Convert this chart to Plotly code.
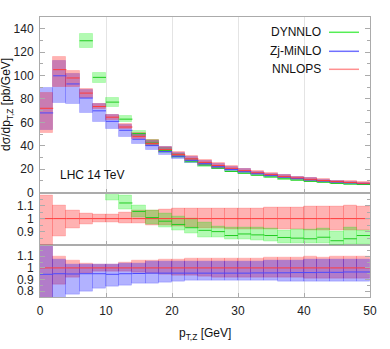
import plotly.graph_objects as go

# ---------------- data ----------------
bin_edges = list(range(0, 52, 2))  # pT,Z bins [GeV]

# NNLOPS central value [pb/GeV]
nnlops = [72.0, 105.0, 97.9, 85.0, 73.5, 64.4, 56.0, 47.8, 42.0, 36.7, 32.4, 28.8, 25.8,
          23.1, 20.7, 18.7, 16.9, 15.3, 13.8, 12.5, 11.3, 10.3, 9.4, 8.6, 7.9]
# NNLOPS band relative to its central value
nnlops_hi = [1.18, 1.10, 1.06, 1.04, 1.03, 1.03, 1.045, 1.06, 1.065, 1.07, 1.075, 1.08, 1.08,
             1.08, 1.08, 1.08, 1.08, 1.085, 1.085, 1.085, 1.095, 1.09, 1.095, 1.10, 1.095]
nnlops_lo = [0.71, 0.86, 0.92, 0.955, 0.97, 0.967, 0.965, 0.96, 0.95, 0.945, 0.937, 0.93, 0.925,
             0.92, 0.918, 0.918, 0.918, 0.915, 0.915, 0.915, 0.912, 0.912, 0.91, 0.91, 0.91]

# DYNNLO / NNLOPS
dynnlo_r = [None, None, None, 1.526, 1.339, 1.20, 1.12, 1.055, 1.008, 0.98, 0.955, 0.93, 0.91,
            0.90, 0.87, 0.882, 0.875, 0.87, 0.855, 0.85, 0.845, 0.857, 0.83, 0.845, 0.87]
dynnlo_hi = [None, None, None, 1.596, 1.39, 1.25, 1.175, 1.10, 1.062, 1.037, 1.012, 1.0, 0.97,
             0.937, 0.935, 0.935, 0.932, 0.92, 0.912, 0.915, 0.915, 0.92, 0.90, 0.93, 0.905]
dynnlo_lo = [None, None, None, 1.455, 1.273, 1.14, 1.07, 1.01, 0.955, 0.93, 0.905, 0.887, 0.855,
             0.855, 0.837, 0.837, 0.833, 0.825, 0.805, 0.805, 0.805, 0.805, 0.79, 0.80, 0.80]

# Zj-MiNLO / NNLOPS
minlo_r = [0.945, 0.95, 0.948, 0.95, 0.95, 0.945, 0.95, 0.952, 0.955, 0.955, 0.955, 0.955, 0.955,
           0.955, 0.955, 0.955, 0.957, 0.957, 0.958, 0.96, 0.96, 0.962, 0.962, 0.965, 0.965]
minlo_hi = [1.24, 1.07, 1.032, 1.03, 1.025, 1.025, 1.035, 1.04, 1.05, 1.05, 1.055, 1.055, 1.055,
            1.055, 1.055, 1.055, 1.058, 1.06, 1.06, 1.062, 1.068, 1.068, 1.068, 1.07, 1.07]
minlo_lo = [0.74, 0.73, 0.77, 0.80, 0.82, 0.84, 0.848, 0.862, 0.868, 0.877, 0.885, 0.89, 0.89,
            0.89, 0.89, 0.89, 0.89, 0.888, 0.886, 0.885, 0.882, 0.88, 0.88, 0.88, 0.88]

series_names = ["DYNNLO", "Zj-MiNLO", "NNLOPS"]
x_ticks = [0, 10, 20, 30, 40, 50]
y_ticks_top = [0, 20, 40, 60, 80, 100, 120, 140]
y_ticks_mid = [0.9, 1.0, 1.1]
y_ticks_bot = [0.8, 0.9, 1.0, 1.1]

# ---------------- styling ----------------
FONT = "Liberation Sans, Arial, sans-serif"
band_col = {"DYNNLO": "rgba(0,240,0,0.30)", "Zj-MiNLO": "rgba(0,0,255,0.30)", "NNLOPS": "rgba(255,0,0,0.30)"}
edge_col = {"DYNNLO": "rgba(0,240,0,0.18)", "Zj-MiNLO": "rgba(0,0,255,0.15)", "NNLOPS": "rgba(255,0,0,0.15)"}
line_col = {"DYNNLO": "#22cc22", "Zj-MiNLO": "#4a4aff", "NNLOPS": "#ff3c3c"}
leg_col = {"DYNNLO": "#55ee55", "Zj-MiNLO": "#7070ff", "NNLOPS": "#ff9090"}

lefts = bin_edges[:-1]
rights = bin_edges[1:]
centers = [(a + b) / 2 for a, b in zip(lefts, rights)]
widths = [b - a for a, b in zip(lefts, rights)]

fig = go.Figure()


def add_series(name, cen, lo, hi, xa, ya):
    base, height, xc, wd = [], [], [], []
    for c, l, h, x, w in zip(cen, lo, hi, centers, widths):
        if c is None:
            continue
        base.append(l)
        height.append(h - l)
        xc.append(x)
        wd.append(w)
    fig.add_trace(go.Bar(x=xc, y=height, base=base, width=wd,
                         marker=dict(color=band_col[name], line=dict(color=edge_col[name], width=1)),
                         xaxis=xa, yaxis=ya, showlegend=False, hoverinfo="skip"))
    lx, ly = [], []
    for c, a, b in zip(cen, lefts, rights):
        if c is None:
            continue
        lx += [a, b, None]
        ly += [c, c, None]
    fig.add_trace(go.Scatter(x=lx, y=ly, mode="lines", line=dict(color=line_col[name], width=1),
                             xaxis=xa, yaxis=ya, showlegend=False, hoverinfo="skip", cliponaxis=True))


def scale(r):
    return [None if v is None else v * n for v, n in zip(r, nnlops)]


# top panel (absolute)
add_series("DYNNLO", scale(dynnlo_r), scale(dynnlo_lo), scale(dynnlo_hi), "x3", "y3")
add_series("Zj-MiNLO", scale(minlo_r), scale(minlo_lo), scale(minlo_hi), "x3", "y3")
add_series("NNLOPS", nnlops, [a * b for a, b in zip(nnlops_lo, nnlops)],
           [a * b for a, b in zip(nnlops_hi, nnlops)], "x3", "y3")

ones = [1.0] * len(nnlops)
# middle panel: DYNNLO / NNLOPS
add_series("NNLOPS", ones, nnlops_lo, nnlops_hi, "x2", "y2")
add_series("DYNNLO", dynnlo_r, dynnlo_lo, dynnlo_hi, "x2", "y2")
# bottom panel: Zj-MiNLO / NNLOPS
add_series("NNLOPS", ones, nnlops_lo, nnlops_hi, "x", "y")
add_series("Zj-MiNLO", minlo_r, minlo_lo, minlo_hi, "x", "y")

axcol = "#ababab"
common_x = dict(range=[0, 50], tickvals=x_ticks, showgrid=True, gridcolor="#e4e4e4", gridwidth=1,
                zeroline=False, showline=True, linecolor=axcol, linewidth=1, mirror=True,
                ticks="inside", ticklen=4, tickcolor=axcol, fixedrange=True, automargin=False)
common_y = dict(showgrid=False, zeroline=False, showline=True, linecolor=axcol, linewidth=1,
                mirror="ticks", ticks="inside", ticklen=5, tickcolor=axcol, ticklabelstandoff=3,
                automargin=False, fixedrange=True)

fig.update_layout(
    width=390, height=349,
    margin=dict(l=40, r=20, t=17, b=52),
    paper_bgcolor="white", plot_bgcolor="white",
    barmode="overlay", bargap=0,
    font=dict(family=FONT, size=12, color="#222222"),
    showlegend=False,
    xaxis=dict(**common_x, anchor="y", showticklabels=True, ticklabelstandoff=3),
    xaxis2=dict(**common_x, anchor="y2", matches="x", showticklabels=False),
    xaxis3=dict(**common_x, anchor="y3", matches="x", showticklabels=False),
    yaxis=dict(**common_y, domain=[0, 0.187], range=[0.75, 1.2], tickvals=y_ticks_bot,
               ticktext=["0.8", "0.9", "1", "1.1"],
               minor=dict(dtick=0.05, ticks="inside", ticklen=3, tickcolor=axcol)),
    yaxis2=dict(**common_y, domain=[0.187, 0.373], range=[0.8, 1.2], tickvals=y_ticks_mid,
                ticktext=["0.9", "1", "1.1"],
                minor=dict(dtick=0.05, ticks="inside", ticklen=3, tickcolor=axcol)),
    yaxis3=dict(**common_y, domain=[0.373, 1], range=[0, 150], tickvals=y_ticks_top,
                minor=dict(dtick=10, ticks="inside", ticklen=3, tickcolor=axcol)),
)

annotations = [
    dict(text="LHC 14 TeV", x=2.7, y=15, xref="x3", yref="y3", xanchor="left", yanchor="middle",
         showarrow=False, font=dict(size=12, color="#111")),
    dict(text="dσ/dp<sub>T,Z</sub> [pb/GeV]", textangle=-90, x=-0.1, y=0.686, xref="paper", yref="paper",
         xanchor="center", yanchor="middle", showarrow=False, font=dict(size=12, color="#111")),
    dict(text="p<sub>T,Z</sub> [GeV]", x=0.5, y=-0.133, xref="paper", yref="paper",
         xanchor="center", yanchor="middle", showarrow=False, font=dict(size=12, color="#111")),
]
shapes = []
leg_y = [0.9454, 0.8775, 0.8132]
for name, yy in zip(series_names, leg_y):
    annotations.append(dict(text=name, x=0.8576, y=yy, xref="paper", yref="paper", xanchor="right",
                            yanchor="middle", showarrow=False, font=dict(size=12, color="#111")))
    shapes.append(dict(type="line", xref="paper", yref="paper", x0=0.8758, x1=0.9667, y0=yy, y1=yy,
                       line=dict(color=leg_col[name], width=1.5)))
fig.update_layout(annotations=annotations, shapes=shapes)

# remove the browser's default 8px body margin so the figure fills the window exactly
fig.write_html("out.html", config={"displayModeBar": False},
               post_script="document.body.style.margin='0';document.body.style.overflow='hidden';")
